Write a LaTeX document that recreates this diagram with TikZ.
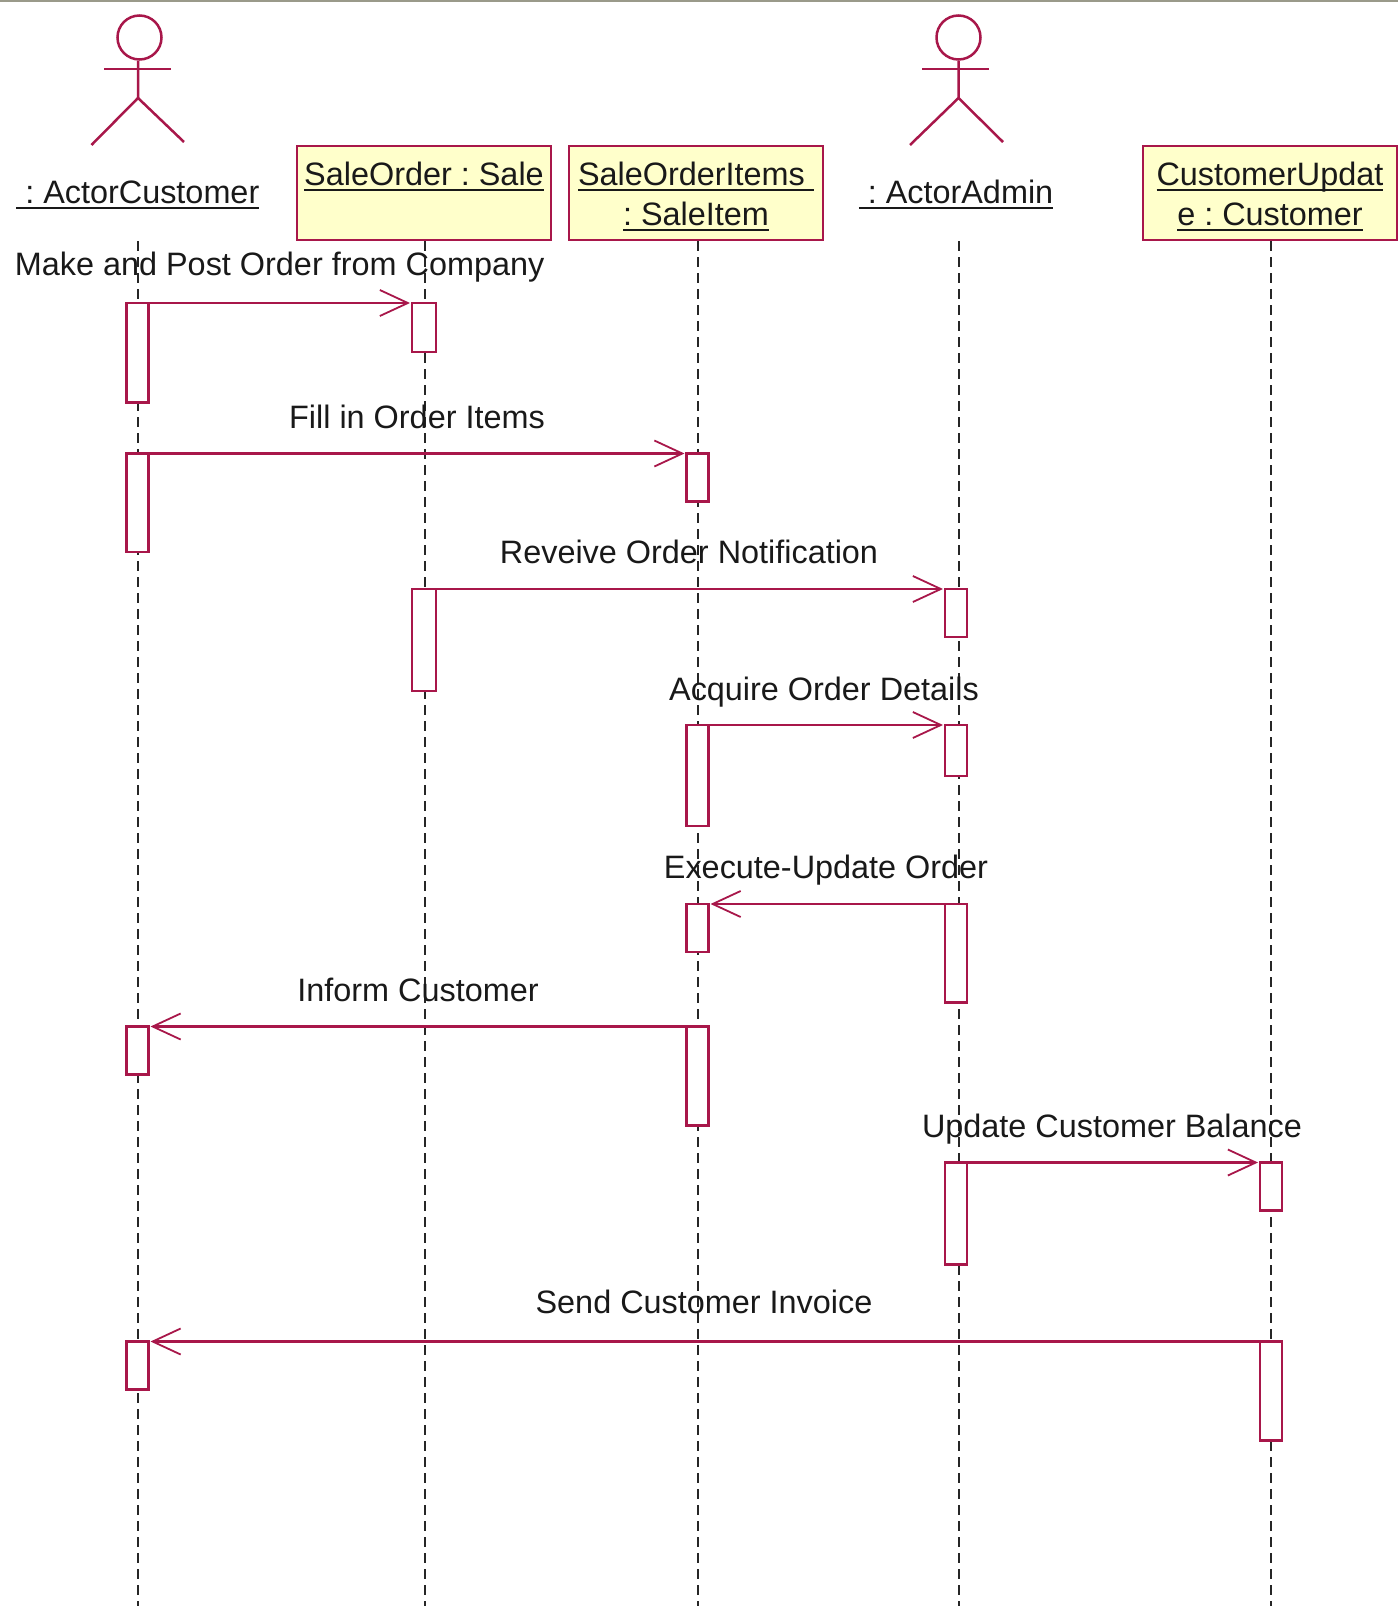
\documentclass[tikz,border=0pt]{standalone}
\usepackage{fontspec}
\setmainfont{Liberation Sans}
\usetikzlibrary{arrows.meta}
\definecolor{umlc}{HTML}{A8174A}
\definecolor{boxc}{HTML}{FFFFCB}
\definecolor{edgec}{HTML}{9A9A8A}
\colorlet{textc}{black!90}
\newcommand{\objname}[1]{\leavevmode\vtop{\hbox{\raisebox{0pt}[\height][0pt]{#1}}\kern2pt\hrule height 1pt}}
\newcommand{\firstline}{\rule{0pt}{15pt}}
\newcommand{\lastline}{\rule[-3pt]{0pt}{3pt}}
\tikzstyle{seq} = [
  x=0.5pt,
  y=-0.5pt,
  font=\fontsize{16.2}{20}\selectfont\frenchspacing,
  text=textc,
]
\tikzstyle{umlline} = [draw=umlc, line width=1.25pt]
\tikzstyle{actorhead} = [umlline, circle, inner sep=0pt, minimum size=22pt]
\tikzstyle{objbox} = [umlline, fill=boxc, inner sep=0pt, align=center, minimum width=127pt, minimum height=47pt]
\tikzstyle{actbar} = [umlline, fill=white, inner sep=0pt, outer sep=0pt, anchor=north, minimum width=11pt]
\tikzstyle{lifeline} = [black!85, line width=1.05pt, dash pattern=on 5pt off 3pt]
\tikzstyle{msg} = [umlline, shorten >=1pt, -{Straight Barb[length=14pt,width=13pt,line width=0.9pt]}]
\tikzstyle{msglabel} = [inner sep=0pt, anchor=base]

\begin{document}
\begin{tikzpicture}[seq]
      \useasboundingbox (0,0) rectangle (1398,1606);

      \coordinate (bottom) at (0,1606);
      \coordinate (custlife) at (138,241);
      \coordinate (salelife) at (425,241);
      \coordinate (itemlife) at (698,241);
      \coordinate (adminlife) at (959,241);
      \coordinate (updlife) at (1271,241);

      % Window edge
      \draw[edgec, line width=1.2pt] (0,1) -- (1398,1);

      % Actors
      \node[actorhead] (custhead) at (139.5,37.5) {};
      \draw[umlline] (custhead.south -| custlife) -- (138,98) -- (91.5,145);
      \draw[umlline] (138,98) -- (184,142);
      \draw[umlline] (104,69) -- (171,69);
      \node[actorhead] (adminhead) at (958.5,37.5) {};
      \draw[umlline] (adminhead.south) -- (958.5,98) -- (910,145);
      \draw[umlline] (958.5,98) -- (1003,142);
      \draw[umlline] (922,69) -- (989,69);
      \node[inner sep=0pt, anchor=base] (custname) at (137.8,203) {\objname{\ : ActorCustomer}};
      \node[inner sep=0pt, anchor=base] (adminname) at (956,203) {\objname{\ : ActorAdmin}};

      % Objects
      \node[objbox] (saleorder) at (424,193) {\firstline\objname{SaleOrder : Sale}\\\lastline};
      \node[objbox] (saleitems) at (696,193) {\firstline\objname{SaleOrderItems\ }\\\objname{: SaleItem}};
      \node[objbox] (custupdate) at (1270,193) {\firstline\objname{CustomerUpdat}\\\objname{e : Customer}};

      % Lifelines
      \draw[lifeline] (custlife) -- (custlife |- bottom);
      \draw[lifeline] (salelife) -- (salelife |- bottom);
      \draw[lifeline] (itemlife) -- (itemlife |- bottom);
      \draw[lifeline] (adminlife) -- (adminlife |- bottom);
      \draw[lifeline] (updlife) -- (updlife |- bottom);

      % Activations
      \node[actbar, minimum height=49.7pt] (cust1) at (137.5,303) {};
      \node[actbar, minimum width=12pt, minimum height=24.5pt] (sale1) at (424,303) {};
      \node[actbar, minimum height=49.2pt] (cust2) at (137.5,453.5) {};
      \node[actbar, minimum height=24pt] (item1) at (697.5,453.5) {};
      \node[actbar, minimum width=12pt, minimum height=51pt] (sale2) at (424,589) {};
      \node[actbar, minimum height=24pt] (admin1) at (956,589) {};
      \node[actbar, minimum height=50.5pt] (item2) at (697.5,725) {};
      \node[actbar, minimum height=25.5pt] (admin2) at (956,725) {};
      \node[actbar, minimum height=24pt] (item3) at (697.5,904) {};
      \node[actbar, minimum height=49.2pt] (admin3) at (956,904) {};
      \node[actbar, minimum height=24pt] (cust3) at (137.5,1026.5) {};
      \node[actbar, minimum height=49.5pt] (item4) at (697.5,1026.5) {};
      \node[actbar, minimum height=51pt] (admin4) at (956,1162.5) {};
      \node[actbar, minimum height=24pt] (upd1) at (1271,1162.5) {};
      \node[actbar, minimum height=24pt] (cust4) at (137.5,1341.5) {};
      \node[actbar, minimum height=49.5pt] (upd2) at (1271,1341.5) {};

      % Messages
      \draw[msg] (cust1.north east) -- (sale1.north west);
      \draw[msg] (cust2.north east) -- (item1.north west);
      \draw[msg] (sale2.north east) -- (admin1.north west);
      \draw[msg] (item2.north east) -- (admin2.north west);
      \draw[msg] (admin3.north west) -- (item3.north east);
      \draw[msg] (item4.north west) -- (cust3.north east);
      \draw[msg] (admin4.north east) -- (upd1.north west);
      \draw[msg] (upd2.north west) -- (cust4.north east);

      % Labels
      \node[msglabel] (makelabel) at (279.6,275) {Make and Post Order from Company};
      \node[msglabel] (filllabel) at (417,428) {Fill in Order Items};
      \node[msglabel] (recvlabel) at (689,563.5) {Reveive Order Notification};
      \node[msglabel] (acqlabel) at (824,700) {Acquire Order Details};
      \node[msglabel] (execlabel) at (826,878.5) {Execute-Update Order};
      \node[msglabel] (infolabel) at (418,1001) {Inform Customer};
      \node[msglabel] (updlabel) at (1112,1137) {Update Customer Balance};
      \node[msglabel] (sendlabel) at (704,1313) {Send Customer Invoice};
    \end{tikzpicture}
\end{document}
